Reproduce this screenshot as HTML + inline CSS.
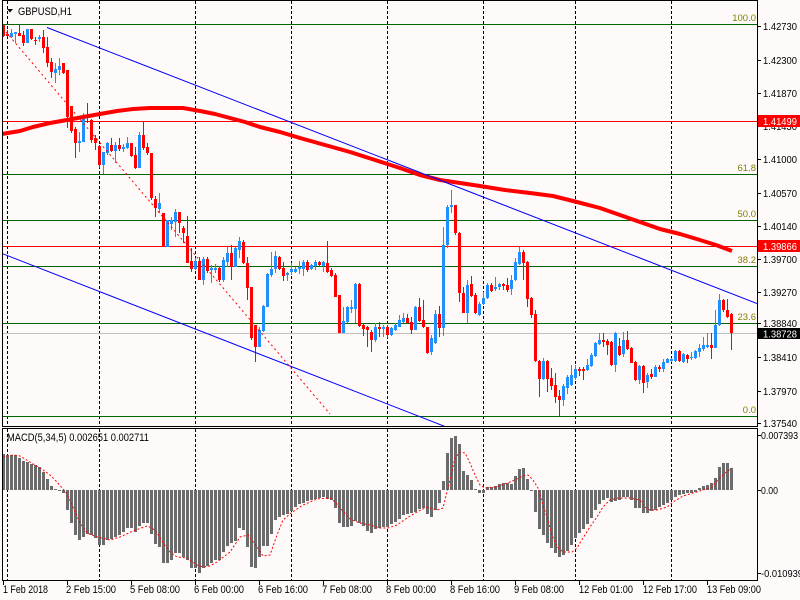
<!DOCTYPE html>
<html><head><meta charset="utf-8"><style>
html,body{margin:0;padding:0;background:#fffafa;}
svg{display:block;}
text{font-family:"Liberation Sans",Arial,sans-serif;}
</style></head><body>
<svg width="800" height="600" viewBox="0 0 800 600" xmlns="http://www.w3.org/2000/svg">
<defs>
<clipPath id="cm"><rect x="3" y="1" width="754" height="425"/></clipPath>
<clipPath id="cd"><rect x="3" y="429" width="754" height="151"/></clipPath>
</defs>
<rect x="0" y="0" width="800" height="600" fill="#fffafa"/>

<!-- grid -->
<g stroke="#000" stroke-width="1" stroke-dasharray="3,2">
<path d="M7.5 1V426M99.5 1V426M195.5 1V426M291.5 1V426M387.5 1V426M483.5 1V426M575.5 1V426M671.5 1V426"/>
<path d="M7.5 429V580M99.5 429V580M195.5 429V580M291.5 429V580M387.5 429V580M483.5 429V580M575.5 429V580M671.5 429V580"/>
</g>

<g clip-path="url(#cm)">
<!-- fib levels -->
<g stroke="#006400" stroke-width="1">
<path d="M3 24.5H757M3 174.5H757M3 220.5H757M3 266.5H757M3 323.5H757M3 416.5H757"/>
</g>
<!-- horizontal lines -->
<path d="M3 121.5H757M3 246.5H757" stroke="#ff0000" stroke-width="1"/>
<path d="M3 333.5H757" stroke="#c0c0c0" stroke-width="1"/>

<!-- red candles -->
<path fill="none" stroke="#ff0000" stroke-width="1" d="M3.5 24V37M7.5 30V37M19.5 24V36M23.5 31V46M31.5 29V40M35.5 37V45M43.5 30V53M47.5 37V67M51.5 58V78M63.5 63V74M67.5 70V128M71.5 106V133M75.5 127V158M87.5 103V123M91.5 119V143M95.5 135V150M99.5 145V168M111.5 138V152M119.5 138V151M131.5 143V157M135.5 147V169M143.5 121V150M147.5 143V155M151.5 153V200M155.5 196V217M163.5 213V247M179.5 212V233M183.5 226V243M187.5 216V263M191.5 248V272M199.5 257V280M207.5 257V273M219.5 266V282M231.5 245V280M243.5 240V264M247.5 257V300M251.5 287V340M255.5 325V362M279.5 256V270M283.5 262V281M307.5 260V272M319.5 261V266M327.5 241V273M331.5 268V277M335.5 273V297M339.5 295V333M359.5 283V327M363.5 323V336M367.5 326V347M371.5 330V352M379.5 322V337M387.5 325V338M407.5 314V324M411.5 317V334M419.5 298V322M423.5 300V328M427.5 327V354M439.5 306V337M455.5 205V235M459.5 232V302M463.5 287V313M471.5 276V297M475.5 293V314M491.5 283V292M503.5 283V290M507.5 278V292M523.5 250V280M527.5 261V307M531.5 297V318M535.5 310V362M539.5 360V397M547.5 360V392M551.5 368V390M555.5 373V403M559.5 390V416M579.5 367V376M583.5 367V380M603.5 333V347M607.5 339V355M611.5 341V366M619.5 338V356M627.5 331V350M631.5 347V363M635.5 361V381M643.5 365V393M651.5 369V379M659.5 365V372M679.5 350V362M687.5 354V363M711.5 333V359M723.5 299V312M727.5 299V318M731.5 313V350"/>
<path fill="none" stroke="#ff0000" stroke-width="3" d="M3.5 25V36M7.5 34V36M19.5 33V36M23.5 35V43M31.5 29V39M35.5 40V41M43.5 37V48M47.5 47V63M51.5 62V72M63.5 63V73M67.5 70V117M71.5 106V131M75.5 129V143M87.5 115V118M91.5 120V140M95.5 138V143M99.5 146V165M111.5 145V151M119.5 145V149M131.5 143V156M135.5 155V168M143.5 135V148M147.5 147V153M151.5 153V198M155.5 199V208M163.5 213V247M179.5 212V223M183.5 228V233M187.5 236V263M191.5 261V269M199.5 261V280M207.5 259V271M219.5 268V280M231.5 253V267M243.5 242V263M247.5 263V288M251.5 287V338M255.5 325V347M279.5 257V269M283.5 268V276M307.5 262V270M319.5 262V265M327.5 263V272M331.5 270V276M335.5 275V297M339.5 295V333M359.5 284V326M363.5 325V329M367.5 327V330M371.5 332V340M379.5 327V329M387.5 327V335M407.5 318V323M411.5 322V330M419.5 307V321M423.5 320V327M427.5 327V353M439.5 314V328M455.5 205V233M459.5 233V293M463.5 293V313M471.5 284V296M475.5 295V313M491.5 285V291M503.5 284V286M507.5 285V290M523.5 252V263M527.5 262V299M531.5 298V315M535.5 314V361M539.5 361V379M547.5 361V379M551.5 378V386M555.5 385V397M559.5 396V400M579.5 369V371M583.5 369V371M603.5 340V342M607.5 341V345M611.5 342V365M619.5 346V355M627.5 340V349M631.5 348V363M635.5 362V380M643.5 366V383M651.5 374V377M659.5 367V369M679.5 351V361M687.5 355V359M711.5 345V348M723.5 300V310M727.5 310V317M731.5 314V333"/>

<!-- blue candles -->
<path fill="none" stroke="#1e90ff" stroke-width="1" d="M11.5 29V38M15.5 32V43M27.5 29V43M39.5 35V42M55.5 63V83M59.5 58V75M79.5 132V152M83.5 113V142M103.5 152V174M107.5 142V155M115.5 142V163M123.5 144V152M127.5 137V149M139.5 132V168M159.5 193V213M167.5 220V247M171.5 217V230M175.5 209V237M195.5 258V270M203.5 257V285M211.5 265V283M215.5 264V273M223.5 257V282M227.5 247V267M235.5 247V267M239.5 237V258M259.5 327V347M263.5 305V332M267.5 273V307M271.5 252V277M275.5 251V273M287.5 272V281M291.5 263V275M295.5 267V273M299.5 261V274M303.5 260V276M311.5 264V270M315.5 260V270M323.5 261V272M343.5 307V333M347.5 306V323M351.5 300V313M355.5 283V323M375.5 323V342M383.5 325V337M391.5 327V336M395.5 323V331M399.5 315V327M403.5 313V323M415.5 306V330M431.5 335V355M435.5 310V344M443.5 227V336M447.5 205V248M451.5 190V213M467.5 280V323M479.5 302V316M483.5 292V305M487.5 283V299M495.5 277V291M499.5 283V290M511.5 275V295M515.5 258V281M519.5 247V265M543.5 358V380M563.5 384V406M567.5 375V394M571.5 365V386M575.5 365V380M587.5 359V371M591.5 353V367M595.5 342V357M599.5 333V345M615.5 332V372M623.5 332V357M639.5 365V384M647.5 373V388M655.5 365V377M663.5 359V372M667.5 358V363M671.5 358V362M675.5 350V362M683.5 353V363M691.5 352V360M695.5 350V359M699.5 344V357M703.5 337V351M707.5 333V348M715.5 310V348M719.5 294V326"/>
<path fill="none" stroke="#1e90ff" stroke-width="3" d="M11.5 33V37M15.5 32V34M27.5 29V43M39.5 37V39M55.5 69V73M59.5 66V70M79.5 141V143M83.5 117V142M103.5 152V165M107.5 143V153M115.5 145V151M123.5 147V149M127.5 143V148M139.5 135V168M159.5 203V209M167.5 220V247M171.5 220V224M175.5 212V222M195.5 261V269M203.5 259V280M211.5 268V270M215.5 268V270M223.5 260V280M227.5 253V262M235.5 248V267M239.5 241V250M259.5 330V347M263.5 306V331M267.5 274V307M271.5 269V275M275.5 256V269M287.5 273V275M291.5 269V272M295.5 269V272M299.5 267V269M303.5 262V269M311.5 265V269M315.5 262V266M323.5 262V266M343.5 321V333M347.5 307V322M351.5 307V309M355.5 284V309M375.5 327V340M383.5 327V329M391.5 328V335M395.5 325V330M399.5 320V327M403.5 318V322M415.5 307V330M431.5 338V352M435.5 314V343M443.5 245V328M447.5 207V245M451.5 205V207M467.5 285V313M479.5 304V315M483.5 298V304M487.5 285V298M495.5 287V289M499.5 284V287M511.5 280V289M515.5 262V280M519.5 252V264M543.5 361V379M563.5 386V400M567.5 377V388M571.5 375V385M575.5 369V378M587.5 365V370M591.5 355V366M595.5 343V356M599.5 340V344M615.5 333V365M623.5 340V354M639.5 366V380M647.5 375V382M655.5 367V377M663.5 362V369M667.5 359V363M671.5 359V361M675.5 351V361M683.5 354V362M691.5 357V358M695.5 351V358M699.5 348V352M703.5 345V349M707.5 345V347M715.5 325V348M719.5 300V325"/>

<!-- moving average -->
<polyline fill="none" stroke="#ff0000" stroke-width="4" stroke-linejoin="round" points="2,134 20,131 33,127 50,123 67,120 83,117 100,114 117,111 133,109 150,108 167,108 183,108 200,111 215,114 230,118 245,122 260,127 280,132 300,138 325,145 350,152 375,160 400,168 420,175 440,180 460,183 480,186 505,190 530,193 553,196 577,202 600,208 620,215 640,222 660,229 680,234 700,240 716,245 732,251"/>

<!-- trend lines -->
<path d="M47 27.5L757 303.5" stroke="#0000ff" stroke-width="1" fill="none"/>
<path d="M2 253.5L445 426.5" stroke="#0000ff" stroke-width="1" fill="none"/>
<path d="M6 32L330 414" stroke="#ff0000" stroke-width="1" stroke-dasharray="2,3" fill="none"/>

<!-- fib labels -->
<g fill="#808000" font-size="9.5" text-anchor="end">
<text x="756" y="21">100.0</text>
<text x="756" y="171">61.8</text>
<text x="756" y="217">50.0</text>
<text x="756" y="263">38.2</text>
<text x="756" y="320">23.6</text>
<text x="756" y="413">0.0</text>
</g>
</g>

<!-- MACD -->
<g clip-path="url(#cd)">
<path fill="none" stroke="#6b6b6b" stroke-width="3" d="M3.5 490V454M7.5 490V455M11.5 490V455M15.5 490V455M19.5 490V458M23.5 490V461M27.5 490V462M31.5 490V464M35.5 490V465M39.5 490V467M43.5 490V472M47.5 490V479M51.5 490V486M55.5 490V489M59.5 490V491M63.5 490V493M67.5 490V510M71.5 490V523M75.5 490V535M79.5 490V540M83.5 490V537M87.5 490V534M91.5 490V535M95.5 490V538M99.5 490V545M103.5 490V545M107.5 490V540M111.5 490V539M115.5 490V537M119.5 490V535M123.5 490V532M127.5 490V528M131.5 490V528M135.5 490V532M139.5 490V526M143.5 490V523M147.5 490V523M151.5 490V534M155.5 490V544M159.5 490V547M163.5 490V563M167.5 490V563M171.5 490V560M175.5 490V553M179.5 490V553M183.5 490V557M187.5 490V560M191.5 490V568M195.5 490V568M199.5 490V573M203.5 490V568M207.5 490V566M211.5 490V563M215.5 490V560M219.5 490V560M223.5 490V552M227.5 490V546M231.5 490V543M235.5 490V541M239.5 490V528M243.5 490V530M247.5 490V547M251.5 490V567M255.5 490V568M259.5 490V557M263.5 490V546M267.5 490V546M271.5 490V534M275.5 490V520M279.5 490V517M283.5 490V515M287.5 490V514M291.5 490V511M295.5 490V507M299.5 490V504M303.5 490V503M307.5 490V501M311.5 490V500M315.5 490V499M319.5 490V498M323.5 490V497M327.5 490V499M331.5 490V500M335.5 490V508M339.5 490V523M343.5 490V527M347.5 490V527M351.5 490V526M355.5 490V521M359.5 490V523M363.5 490V526M367.5 490V531M371.5 490V533M375.5 490V529M379.5 490V528M383.5 490V527M387.5 490V527M391.5 490V524M395.5 490V522M399.5 490V519M403.5 490V515M407.5 490V514M411.5 490V513M415.5 490V512M419.5 490V509M423.5 490V508M427.5 490V514M431.5 490V517M435.5 490V510M439.5 490V503M443.5 490V481M447.5 490V453M451.5 490V438M455.5 490V436M459.5 490V444M463.5 490V471M467.5 490V475M471.5 490V480M475.5 490V489M479.5 490V493M483.5 490V493M487.5 490V487M491.5 490V487M495.5 490V486M499.5 490V484M503.5 490V483M507.5 490V483M511.5 490V484M515.5 490V476M519.5 490V469M523.5 490V468M527.5 490V479M531.5 490V491M535.5 490V512M539.5 490V529M543.5 490V535M547.5 490V543M551.5 490V548M555.5 490V553M559.5 490V557M563.5 490V555M567.5 490V551M571.5 490V545M575.5 490V538M579.5 490V533M583.5 490V529M587.5 490V524M591.5 490V518M595.5 490V510M599.5 490V504M603.5 490V500M607.5 490V498M611.5 490V502M615.5 490V501M619.5 490V500M623.5 490V497M627.5 490V497M631.5 490V500M635.5 490V508M639.5 490V508M643.5 490V513M647.5 490V513M651.5 490V511M655.5 490V510M659.5 490V507M663.5 490V505M667.5 490V503M671.5 490V500M675.5 490V497M679.5 490V495M683.5 490V494M687.5 490V493M691.5 490V493M695.5 490V492M699.5 490V488M703.5 490V486M707.5 490V485M711.5 490V483M715.5 490V478M719.5 490V467M723.5 490V463M727.5 490V463M731.5 490V468"/>
<polyline fill="none" stroke="#ff0000" stroke-width="1" stroke-dasharray="2,2" points="3,457 13,455 20,456 30,462 43,470 50,475 57,482 63,489 67,494 73,507 80,523 87,533 97,537 110,540 120,537 133,531 147,526 152,528 157,533 163,543 170,552 177,557 187,558 197,565 203,567 210,566 217,562 230,552 240,537 248,535 257,547 263,556 270,555 277,535 283,520 291,513 303,505 317,499 330,498 335,502 342,510 350,519 360,523 370,525 380,528 388,528 397,525 407,518 417,512 427,507 437,510 443,508 450,480 455,458 460,452 465,453 470,463 475,475 480,485 485,488 497,487 510,482 523,476 528,475 533,480 538,488 542,502 547,517 552,535 557,547 563,552 572,552 577,548 583,538 590,527 597,517 603,507 610,500 618,498 630,498 640,500 645,507 650,510 657,510 667,507 673,502 683,496 693,493 703,490 712,487 718,480 725,473 732,468"/>
</g>

<!-- frames -->
<g stroke="#000" stroke-width="1" fill="none">
<path d="M2.5 0.5H757.5V426.5H2.5Z"/>
<path d="M2.5 428.5H757.5V580.5H2.5Z"/>
<path d="M757 26.5H761M757 60.5H761M757 93.5H761M757 126.5H761M757 159.5H761M757 193.5H761M757 226.5H761M757 259.5H761M757 292.5H761M757 323.5H761M757 357.5H761M757 391.5H761M757 423.5H761"/>
<path d="M757 435.5H761M757 490.5H761M757 573.5H761"/>
<path d="M3.5 580V585M67.5 580V585M131.5 580V585M195.5 580V585M259.5 580V585M323.5 580V585M387.5 580V585M451.5 580V585M515.5 580V585M579.5 580V585M643.5 580V585M707.5 580V585"/>
</g>

<!-- title -->
<polygon points="7,9 13,9 10,12.5" fill="#000"/>
<text x="18" y="15" font-size="11" fill="#000" textLength="54" lengthAdjust="spacingAndGlyphs">GBPUSD,H1</text>
<text x="7" y="441" font-size="11" fill="#000" textLength="142" lengthAdjust="spacingAndGlyphs">MACD(5,34,5) 0.002651 0.002711</text>

<!-- price labels -->
<g font-size="10.5" fill="#000">
<text x="763" y="30" textLength="34" lengthAdjust="spacingAndGlyphs">1.42730</text>
<text x="763" y="64" textLength="34" lengthAdjust="spacingAndGlyphs">1.42300</text>
<text x="763" y="97" textLength="34" lengthAdjust="spacingAndGlyphs">1.41870</text>
<text x="763" y="130" textLength="34" lengthAdjust="spacingAndGlyphs">1.41430</text>
<text x="763" y="163" textLength="34" lengthAdjust="spacingAndGlyphs">1.41000</text>
<text x="763" y="197" textLength="34" lengthAdjust="spacingAndGlyphs">1.40570</text>
<text x="763" y="230" textLength="34" lengthAdjust="spacingAndGlyphs">1.40140</text>
<text x="763" y="263" textLength="34" lengthAdjust="spacingAndGlyphs">1.39700</text>
<text x="763" y="296" textLength="34" lengthAdjust="spacingAndGlyphs">1.39270</text>
<text x="763" y="327" textLength="34" lengthAdjust="spacingAndGlyphs">1.38840</text>
<text x="763" y="361" textLength="34" lengthAdjust="spacingAndGlyphs">1.38410</text>
<text x="763" y="395" textLength="34" lengthAdjust="spacingAndGlyphs">1.37970</text>
<text x="763" y="427" textLength="34" lengthAdjust="spacingAndGlyphs">1.37540</text>
<text x="761" y="439" textLength="37" lengthAdjust="spacingAndGlyphs">0.007393</text>
<text x="761" y="494" textLength="17" lengthAdjust="spacingAndGlyphs">0.00</text>
<text x="761" y="577" textLength="42" lengthAdjust="spacingAndGlyphs">-0.010939</text>
</g>

<!-- price boxes -->
<rect x="758" y="115" width="42" height="12" fill="#ff0000"/>
<text x="763" y="125" font-size="10.5" fill="#fff" textLength="34" lengthAdjust="spacingAndGlyphs">1.41499</text>
<rect x="758" y="240" width="42" height="12" fill="#ff0000"/>
<text x="763" y="250" font-size="10.5" fill="#fff" textLength="34" lengthAdjust="spacingAndGlyphs">1.39866</text>
<rect x="758" y="328" width="42" height="11" fill="#000"/>
<text x="763" y="337.5" font-size="10.5" fill="#fff" textLength="34" lengthAdjust="spacingAndGlyphs">1.38728</text>

<!-- time labels -->
<g font-size="11" fill="#000">
<text x="3" y="593" textLength="45" lengthAdjust="spacingAndGlyphs">1 Feb 2018</text>
<text x="66" y="593" textLength="50" lengthAdjust="spacingAndGlyphs">2 Feb 15:00</text>
<text x="130" y="593" textLength="50" lengthAdjust="spacingAndGlyphs">5 Feb 08:00</text>
<text x="194" y="593" textLength="50" lengthAdjust="spacingAndGlyphs">6 Feb 00:00</text>
<text x="258" y="593" textLength="50" lengthAdjust="spacingAndGlyphs">6 Feb 16:00</text>
<text x="322" y="593" textLength="50" lengthAdjust="spacingAndGlyphs">7 Feb 08:00</text>
<text x="386" y="593" textLength="50" lengthAdjust="spacingAndGlyphs">8 Feb 00:00</text>
<text x="450" y="593" textLength="50" lengthAdjust="spacingAndGlyphs">8 Feb 16:00</text>
<text x="514" y="593" textLength="50" lengthAdjust="spacingAndGlyphs">9 Feb 08:00</text>
<text x="579" y="593" textLength="54" lengthAdjust="spacingAndGlyphs">12 Feb 01:00</text>
<text x="643" y="593" textLength="54" lengthAdjust="spacingAndGlyphs">12 Feb 17:00</text>
<text x="707" y="593" textLength="54" lengthAdjust="spacingAndGlyphs">13 Feb 09:00</text>
</g>
</svg>
</body></html>
